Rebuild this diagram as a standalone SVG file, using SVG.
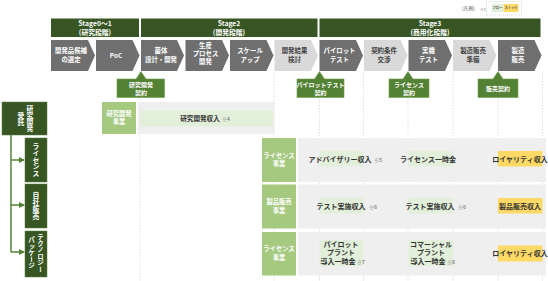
<svg xmlns="http://www.w3.org/2000/svg" width="548" height="281" viewBox="0 0 548 281">
<style>
text{font-family:"Noto Sans CJK JP","Noto Sans",sans-serif;font-weight:bold;}
.stage{fill:#375623;}
.stt{fill:#fff;font-size:6.8px;text-anchor:middle;}
.chD{fill:#6f6f6f;}
.chL{fill:#d9d9d9;}
.ctD{fill:#fff;font-size:6.4px;text-anchor:middle;}
.ctL{fill:#404040;font-size:6.4px;text-anchor:middle;}
.con{fill:#548235;stroke:#70a048;stroke-width:0.6;}
.cont{fill:#fff;font-size:6px;text-anchor:middle;}
.grid{stroke:#d6d6d6;stroke-width:0.8;stroke-dasharray:1.5,1.5;fill:none;}
.band{fill:#efefef;}
.lab{fill:#a4c97f;}
.labt{fill:#fff;font-size:6.3px;text-anchor:middle;}
.flow{fill:#e2efda;}
.stock{fill:#ffd966;}
.rt{fill:#333;font-size:7px;text-anchor:middle;}
.note{fill:#888;font-size:5px;}
.lbox{fill:#375623;stroke:#5a7d3c;stroke-width:0.5;}
.vt{fill:#fff;font-size:6.8px;writing-mode:vertical-rl;text-anchor:middle;}
.conn{stroke:#548235;stroke-width:1.5;fill:none;}
</style>
<defs>
<marker id="arr" viewBox="0 0 6 6" refX="5" refY="3" markerWidth="4" markerHeight="4" orient="auto" markerUnits="strokeWidth">
<path d="M0,0 L6,3 L0,6 Z" fill="#548235"/>
</marker>
</defs>

<!-- legend -->
<g id="legend">
<text x="462" y="10" style="fill:#555;font-size:4.8px;font-weight:normal">(凡例)</text>
<text x="480" y="11" style="fill:#555;font-size:3.5px;font-weight:normal">※3</text>
<rect x="486.5" y="1.5" width="35" height="13.5" fill="#fff" stroke="#cfcfcf" stroke-width="0.8" stroke-dasharray="1,1"/>
<rect x="491.5" y="4" width="12" height="8" class="flow"/>
<rect x="503.5" y="4" width="15" height="8" class="stock"/>
<text x="497.5" y="9.3" style="fill:#555;font-size:3.3px;text-anchor:middle">フロー</text>
<text x="511" y="9.3" style="fill:#555;font-size:3.3px;text-anchor:middle">ストック</text>
</g>

<!-- grid lines -->
<g id="grid">
<line class="grid" x1="140" y1="72" x2="140" y2="281"/>
<line class="grid" x1="274" y1="72" x2="274" y2="281"/>
<line class="grid" x1="319.5" y1="72" x2="319.5" y2="281"/>
<line class="grid" x1="363.5" y1="72" x2="363.5" y2="281"/>
<line class="grid" x1="408" y1="72" x2="408" y2="281"/>
<line class="grid" x1="453" y1="72" x2="453" y2="281"/>
<line class="grid" x1="498" y1="72" x2="498" y2="281"/>
<line class="grid" x1="542.5" y1="72" x2="542.5" y2="281"/>
</g>

<!-- stages -->
<g id="stage01"><rect class="stage" x="51" y="18.5" width="88" height="18.5"/><text class="stt" x="95" y="26">Stage0～1</text><text class="stt" x="95" y="34.5">(研究段階)</text></g>
<g id="stage2"><rect class="stage" x="141" y="18.5" width="176.5" height="18.5"/><text class="stt" x="229" y="26">Stage2</text><text class="stt" x="229" y="34.5">(開発段階)</text></g>
<g id="stage3"><rect class="stage" x="319.5" y="18.5" width="221" height="18.5"/><text class="stt" x="430" y="26">Stage3</text><text class="stt" x="430" y="34.5">(商用化段階)</text></g>

<!-- chevrons -->
<g id="p1"><path class="chD" d="M51,40 H88 L95,55.5 L88,71 H51 Z"/><text class="ctD" x="71" y="52.5">開発品候補</text><text class="ctD" x="71" y="61.5">の選定</text></g>
<g id="p2"><path class="chD" d="M96,40 H132.5 L139.5,55.5 L132.5,71 H96 Z"/><text class="ctD" x="116" y="57.5">PoC</text></g>
<g id="p3"><path class="chD" d="M141,40 H177 L184,55.5 L177,71 H141 Z"/><text class="ctD" x="161" y="52.5">菌体</text><text class="ctD" x="161" y="61.5">設計・開発</text></g>
<g id="p4"><path class="chD" d="M185.5,40 H222 L229,55.5 L222,71 H185.5 Z"/><text class="ctD" x="205.5" y="48">生産</text><text class="ctD" x="205.5" y="56">プロセス</text><text class="ctD" x="205.5" y="64">開発</text></g>
<g id="p5"><path class="chD" d="M230,40 H266.5 L273.5,55.5 L266.5,71 H230 Z"/><text class="ctD" x="250" y="52.5">スケール</text><text class="ctD" x="250" y="61.5">アップ</text></g>
<g id="p6"><path class="chL" d="M274.5,40 H311 L318,55.5 L311,71 H274.5 Z"/><text class="ctL" x="294.5" y="52.5">開発結果</text><text class="ctL" x="294.5" y="61.5">検討</text></g>
<g id="p7"><path class="chD" d="M319.5,40 H356 L363,55.5 L356,71 H319.5 Z"/><text class="ctD" x="339.5" y="52.5">パイロット</text><text class="ctD" x="339.5" y="61.5">テスト</text></g>
<g id="p8"><path class="chL" d="M364,40 H400.5 L407.5,55.5 L400.5,71 H364 Z"/><text class="ctL" x="384" y="52.5">契約条件</text><text class="ctL" x="384" y="61.5">交渉</text></g>
<g id="p9"><path class="chD" d="M408.5,40 H445 L452,55.5 L445,71 H408.5 Z"/><text class="ctD" x="428.5" y="52.5">実機</text><text class="ctD" x="428.5" y="61.5">テスト</text></g>
<g id="p10"><path class="chL" d="M453,40 H489.5 L496.5,55.5 L489.5,71 H453 Z"/><text class="ctL" x="473" y="52.5">製造販売</text><text class="ctL" x="473" y="61.5">準備</text></g>
<g id="p11"><path class="chD" d="M498,40 H534.5 L541.5,55.5 L534.5,71 H498 Z"/><text class="ctD" x="518" y="52.5">製造</text><text class="ctD" x="518" y="61.5">販売</text></g>

<!-- contracts -->
<g id="c1"><path class="con" d="M117,79 H136 L141,71.5 L146,79 H164.5 V97.5 H117 Z"/><text class="cont" x="141" y="86.5">研究開発</text><text class="cont" x="141" y="94.5">契約</text></g>
<g id="c2"><path class="con" d="M297,79 H314.5 L319.5,71.5 L324.5,79 H344 V97.5 H297 Z"/><text class="cont" x="320.5" y="86.5">パイロットテスト</text><text class="cont" x="320.5" y="94.5">契約</text></g>
<g id="c3"><path class="con" d="M389,79 H403 L408,71.5 L413,79 H429 V97.5 H389 Z"/><text class="cont" x="409" y="86.5">ライセンス</text><text class="cont" x="409" y="94.5">契約</text></g>
<g id="c4"><path class="con" d="M478,79 H493 L498,71.5 L503,79 H518 V97.5 H478 Z"/><text class="cont" x="498" y="90.8">販売契約</text></g>

<!-- left column -->
<g id="n_rd"><rect class="lbox" x="2" y="102" width="45" height="33"/><text class="vt" x="30" y="118.5">研究開発</text><text class="vt" x="21" y="119">受託</text></g>
<g id="n_lic"><rect class="lbox" x="25" y="138" width="22" height="44"/><text class="vt" x="36" y="160">ライセンス</text></g>
<g id="n_own"><rect class="lbox" x="25" y="184" width="22" height="44"/><text class="vt" x="36" y="206">自社販売</text></g>
<g id="n_tp"><rect class="lbox" x="25" y="231" width="22" height="46"/><text class="vt" x="40.5" y="253" style="font-size:6.5px">テクノロジー</text><text class="vt" x="31.5" y="253" style="font-size:6.5px">パッケージ</text></g>

<g id="connectors">
<path class="conn" d="M11,135 V252"/>
<path class="conn" d="M11,160 H24" marker-end="url(#arr)"/>
<path class="conn" d="M11,205 H24" marker-end="url(#arr)"/>
<path class="conn" d="M11,252 H24" marker-end="url(#arr)"/>
</g>

<!-- row 1 -->
<g id="row1">
<rect class="lab" x="102" y="102" width="34" height="32"/>
<text class="labt" x="119" y="115.5">研究開発</text><text class="labt" x="119" y="124">事業</text>
<rect class="band" x="138" y="102" width="136.5" height="32"/>
<rect class="flow" x="140" y="110.5" width="133" height="16"/>
<text class="rt" x="200" y="121" style="font-size:6.6px">研究開発収入</text>
<text class="note" x="222" y="121">※4</text>
</g>

<!-- row 2 -->
<g id="row2">
<rect class="lab" x="262" y="138" width="34" height="44"/>
<text class="labt" x="279" y="157.5">ライセンス</text><text class="labt" x="279" y="166">事業</text>
<rect class="band" x="298" y="138" width="248" height="44"/>
<rect class="flow" x="319.5" y="151" width="44" height="15.5"/>
<rect class="flow" x="408.5" y="151" width="44.5" height="15.5"/>
<rect class="stock" x="498" y="151" width="44.5" height="15.5"/>
<text class="rt" x="340" y="161.5">アドバイザリー収入</text><text class="note" x="374" y="161.5">※5</text>
<text class="rt" x="428" y="161.5">ライセンス一時金</text>
<text class="rt" x="520" y="161.5">ロイヤリティ収入</text>
</g>

<!-- row 3 -->
<g id="row3">
<rect class="lab" x="262" y="184.5" width="34" height="44"/>
<text class="labt" x="279" y="204">製品販売</text><text class="labt" x="279" y="212.5">事業</text>
<rect class="band" x="298" y="184.5" width="248" height="44"/>
<rect class="flow" x="319.5" y="198" width="44" height="15.5"/>
<rect class="flow" x="408.5" y="198" width="44.5" height="15.5"/>
<rect class="stock" x="498" y="198" width="44.5" height="15.5"/>
<text class="rt" x="341" y="208.5">テスト実施収入</text><text class="note" x="369" y="208.5">※6</text>
<text class="rt" x="430" y="208.5">テスト実施収入</text><text class="note" x="458" y="208.5">※6</text>
<text class="rt" x="520" y="208.5">製品販売収入</text>
</g>

<!-- row 4 -->
<g id="row4">
<rect class="lab" x="262" y="232" width="34" height="43.5"/>
<text class="labt" x="279" y="251">ライセンス</text><text class="labt" x="279" y="259.5">事業</text>
<rect class="band" x="298" y="232" width="248" height="43.5"/>
<rect class="flow" x="319.5" y="240" width="44" height="26"/>
<rect class="flow" x="408.5" y="240" width="44.5" height="26"/>
<rect class="stock" x="498" y="245.5" width="44.5" height="16"/>
<text class="rt" x="341" y="246.5">パイロット</text>
<text class="rt" x="341" y="255">プラント</text>
<text class="rt" x="338" y="263.5">導入一時金</text><text class="note" x="357" y="263.5">※7</text>
<text class="rt" x="431" y="246.5">コマーシャル</text>
<text class="rt" x="431" y="255">プラント</text>
<text class="rt" x="428" y="263.5">導入一時金</text><text class="note" x="447" y="263.5">※8</text>
<text class="rt" x="520" y="256">ロイヤリティ収入</text>
</g>
</svg>
